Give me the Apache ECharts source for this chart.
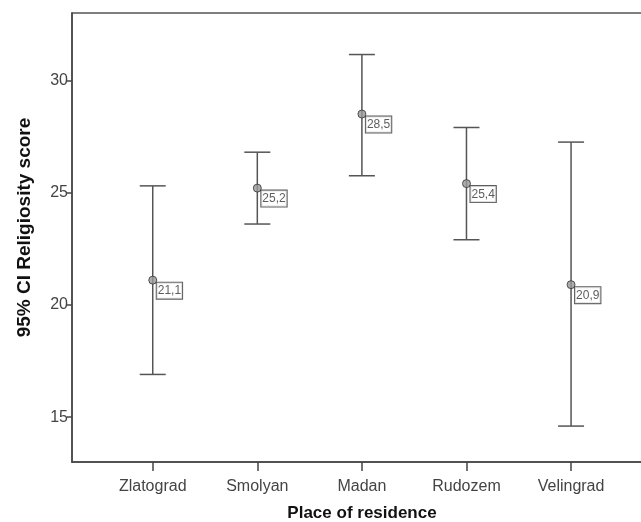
<!DOCTYPE html>
<html><head><meta charset="utf-8">
<script src="https://cdn.jsdelivr.net/npm/echarts@6/dist/echarts.min.js"></script>
<style>html,body{margin:0;padding:0;background:#fff}#c{width:641px;height:522px}</style>
</head><body><div id="c"></div>
<script>
const categories = ['Zlatograd', 'Smolyan', 'Madan', 'Rudozem', 'Velingrad'];
const means = [21.1, 25.2, 28.5, 25.4, 20.9];
const lowerCI = [16.9, 23.6, 25.75, 22.9, 14.6];
const upperCI = [25.3, 26.8, 31.15, 27.9, 27.25];
const yTicks = [15, 20, 25, 30];
const xTicks = categories.map((c, i) => i);

const chart = echarts.init(document.getElementById('c'), null, {renderer: 'canvas'});
const font = '"Liberation Sans", Arial, sans-serif';
const axisColor = '#444';
const barColor = '#555';

chart.setOption({
  animation: false,
  backgroundColor: '#fff',
  grid: {left: 72, top: 13, width: 580, height: 449, containLabel: false, outerBoundsMode: 'none',
         show: true, borderColor: '#555', borderWidth: 1.5, backgroundColor: 'transparent'},
  xAxis: {
    type: 'value', min: -0.772, max: 4.774,
    splitLine: {show: false},
    axisLine: {show: true, onZero: false, lineStyle: {color: axisColor, width: 1.5}},
    axisTick: {show: true, customValues: xTicks, length: 9, lineStyle: {color: axisColor, width: 1.5}},
    axisLabel: {customValues: xTicks, formatter: v => categories[Math.round(v)], fontFamily: font, fontSize: 16, color: '#444', margin: 17},
    name: 'Place of residence', nameLocation: 'middle', nameGap: 43,
    nameTextStyle: {fontFamily: font, fontSize: 17, fontWeight: 'bold', color: '#111'}
  },
  yAxis: {
    type: 'value', min: 13, max: 33,
    splitLine: {show: false},
    axisLine: {show: true, onZero: false, lineStyle: {color: axisColor, width: 1.5}},
    axisTick: {show: true, customValues: yTicks, length: 5, lineStyle: {color: axisColor, width: 1.5}},
    axisLabel: {customValues: yTicks, fontFamily: font, fontSize: 16, color: '#444', margin: 4},
    name: '95% CI Religiosity score', nameLocation: 'middle', nameGap: 38,
    nameTextStyle: {fontFamily: font, fontSize: 19, fontWeight: 'bold', color: '#111', padding: [0, 0, 0, 20]}
  },
  series: [
    {
      type: 'custom',
      data: categories.map((c, i) => [i, lowerCI[i], upperCI[i]]),
      encode: {x: 0, y: [1, 2]},
      renderItem: function (params, api) {
        const x = api.value(0);
        const lo = api.coord([x, api.value(1)]);
        const hi = api.coord([x, api.value(2)]);
        const hw = 13;
        const style = {stroke: barColor, lineWidth: 1.5};
        return {type: 'group', children: [
          {type: 'line', shape: {x1: lo[0], y1: lo[1], x2: hi[0], y2: hi[1]}, style: style},
          {type: 'line', shape: {x1: hi[0] - hw, y1: hi[1], x2: hi[0] + hw, y2: hi[1]}, style: style},
          {type: 'line', shape: {x1: lo[0] - hw, y1: lo[1], x2: lo[0] + hw, y2: lo[1]}, style: style}
        ]};
      }
    },
    {
      type: 'scatter',
      data: means.map((m, i) => [i, m]),
      symbol: 'circle', symbolSize: 8,
      itemStyle: {color: '#999', borderColor: '#333', borderWidth: 1},
      label: {
        show: true, position: [8.5, 7],
        formatter: p => String(p.value[1]).replace('.', ','),
        fontFamily: font, fontSize: 12, lineHeight: 13, color: '#333',
        backgroundColor: '#fff', borderColor: '#333', borderWidth: 1,
        padding: [2, 1, 1, 1]
      }
    }
  ]
});
</script></body></html>
